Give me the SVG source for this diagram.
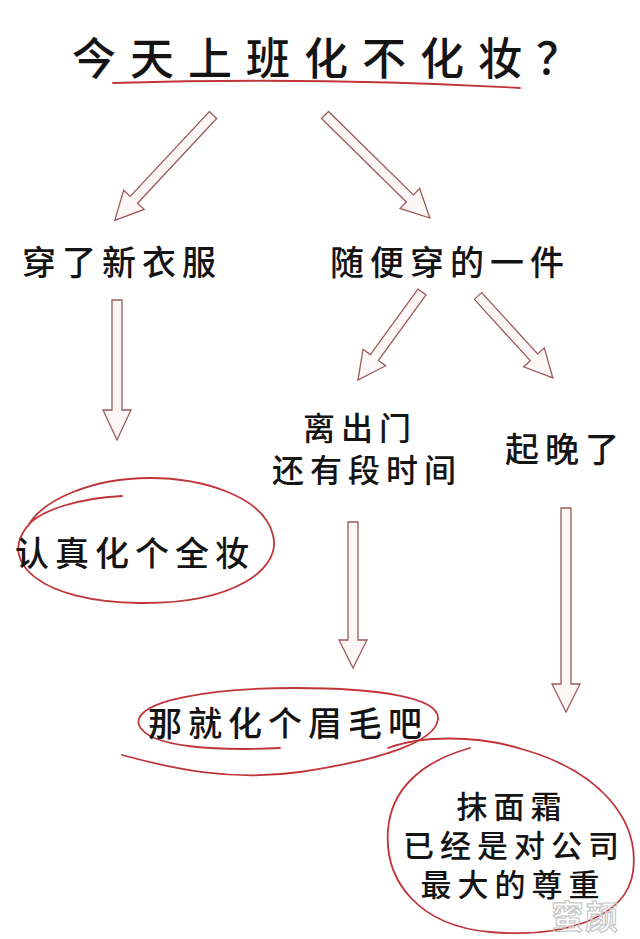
<svg xmlns="http://www.w3.org/2000/svg" width="640" height="939" viewBox="0 0 640 939">
<defs>
<style>
.t{font-family:"Noto Sans CJK SC","Noto Sans CJK JP",sans-serif;fill:#141414;font-weight:500}
.lab{font-size:34px;letter-spacing:6px}
.sm{font-size:32px}
.xs{font-size:31px}
.arr{fill:#fdf6f6;stroke:#9c5a5a;stroke-width:1.3;stroke-linejoin:miter}
.ring{fill:none;stroke:#c0353a;stroke-width:1.8;stroke-linecap:round}
</style>
</defs>
<rect width="640" height="939" fill="#ffffff"/>

<g id="title">
<text class="t" x="72" y="75" font-size="44" letter-spacing="14">今天上班化不化妆？</text>
<path class="ring" d="M113,83 C250,79 400,81 520,88" stroke-width="2.4"/>
</g>

<g id="connectors">
<polygon class="arr" transform="translate(213,115) rotate(43)" points="-5,0 5,0 5,116 14,116 0,144 -14,116 -5,116"/>
<polygon class="arr" transform="translate(325,115) rotate(-45.5)" points="-5,0 5,0 5,119 14,119 0,147 -14,119 -5,119"/>
<polygon class="arr" transform="translate(117,300)" points="-5,0 5,0 5,110 14,110 0,140 -14,110 -5,110"/>
<polygon class="arr" transform="translate(422,292) rotate(36)" points="-5,0 5,0 5,81 14,81 0,109 -14,81 -5,81"/>
<polygon class="arr" transform="translate(478,296) rotate(-42.4)" points="-5,0 5,0 5,83 14,83 0,111 -14,83 -5,83"/>
<polygon class="arr" transform="translate(353,522)" points="-5,0 5,0 5,118 14,118 0,146 -14,118 -5,118"/>
<polygon class="arr" transform="translate(566,508)" points="-5,0 5,0 5,176 14,176 0,204 -14,176 -5,176"/>
</g>

<g id="node-new-clothes">
<text class="t lab" x="22" y="275">穿了新衣服</text>
</g>
<g id="node-casual">
<text class="t lab" x="330" y="275" letter-spacing="7">随便穿的一件</text>
</g>
<g id="node-time">
<text class="t lab sm" x="360" y="440" text-anchor="middle" letter-spacing="8">离出门</text>
<text class="t lab sm" x="367" y="482" text-anchor="middle" letter-spacing="8">还有段时间</text>
</g>
<g id="node-late">
<text class="t lab" x="505" y="462" letter-spacing="3">起晚了</text>
</g>
<g id="node-full-makeup">
<path class="ring" d="M122,496 C80,498 38,510 26,528 C0,562 40,602 140,603 C232,604 282,570 273,535 C263,495 200,478 150,478 C92,478 42,500 28,526"/>
<text class="t lab" x="15" y="566" letter-spacing="7">认真化个全妆</text>
</g>
<g id="node-eyebrows">
<path class="ring" d="M280,748 C220,751 148,748 139,725 C131,700 215,688 295,688 C380,688 440,698 438,719 C436,742 380,760 300,772 C230,782 170,768 122,755"/>
<text class="t lab" x="148" y="736">那就化个眉毛吧</text>
</g>
<g id="node-cream">
<path class="ring" d="M388,748 C420,736 475,734 525,750 C600,772 640,820 633,872 C626,920 560,938 490,932 C420,926 384,882 388,830 C391,790 420,762 470,748"/>
<text class="t lab xs" x="512" y="818" text-anchor="middle" letter-spacing="5">抹面霜</text>
<text class="t lab xs" x="514" y="857" text-anchor="middle" letter-spacing="7">已经是对公司</text>
<text class="t lab xs" x="513" y="896" text-anchor="middle" letter-spacing="7">最大的尊重</text>
</g>
<g id="watermark">
<text x="551" y="929" font-family="Noto Sans CJK SC, sans-serif" font-size="33" font-weight="700" fill="none" stroke="#c8c8c8" stroke-width="1.2" letter-spacing="1">蜜颜</text>
</g>
</svg>
